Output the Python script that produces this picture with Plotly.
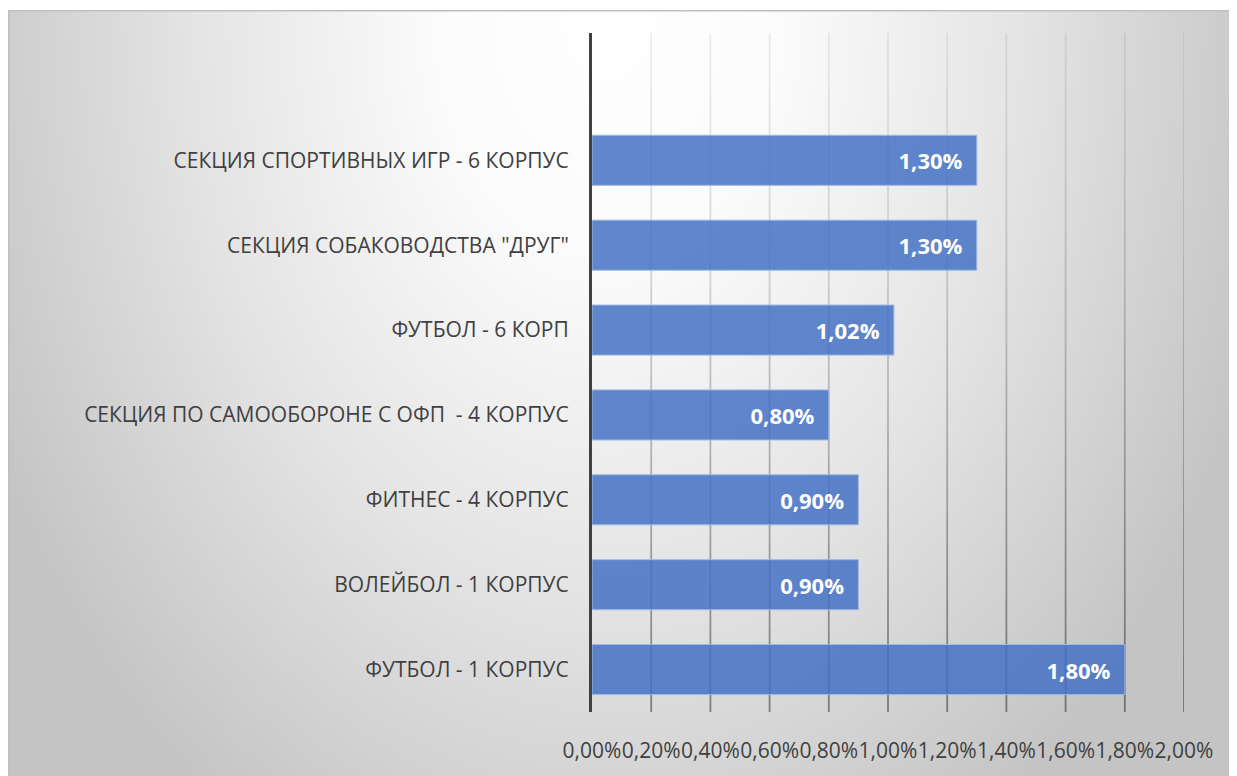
import base64
import plotly.graph_objects as go

# ---- data (bottom to top, as drawn by the category axis) ----
categories = [
    "ФУТБОЛ - 1 КОРПУС",
    "ВОЛЕЙБОЛ - 1 КОРПУС",
    "ФИТНЕС - 4 КОРПУС",
    "СЕКЦИЯ ПО САМООБОРОНЕ С ОФП  - 4 КОРПУС",
    "ФУТБОЛ - 6 КОРП",
    "СЕКЦИЯ СОБАКОВОДСТВА \"ДРУГ\"",
    "СЕКЦИЯ СПОРТИВНЫХ ИГР - 6 КОРПУС",
]
values = [0.018, 0.009, 0.009, 0.008, 0.0102, 0.013, 0.013]
x_ticks = [0.000, 0.002, 0.004, 0.006, 0.008, 0.010, 0.012, 0.014, 0.016, 0.018, 0.020]

# page has an 8px body margin; figure is sized to fit the window
W, H = 1229, 768
ML, MR, MT, MB = 584, 53, 25, 64
PW, PH = W - ML - MR, H - MT - MB

FONT = "Open Sans"
TXT = "#404040"

fig = go.Figure()
fig.add_trace(go.Bar(
    x=values, y=categories, orientation="h",
    marker=dict(color="rgba(68,114,196,0.85)",
                line=dict(color="rgba(160,185,228,1)", width=1)),
    texttemplate="%{x:.2%}\u00a0\u00a0",
    textposition="inside", insidetextanchor="end", textangle=0,
    constraintext="none",
    textfont=dict(family=FONT, size=22, color="white", weight="bold"),
    hoverinfo="skip",
))

# ---- background: radial gradient frame ----
fx0, fy0 = 0, 2
fw, fh = W - fx0, H - fy0
svg = f'''<svg xmlns="http://www.w3.org/2000/svg" width="{fw}" height="{fh}" viewBox="0 0 {fw} {fh}">
<defs><radialGradient id="g" gradientUnits="userSpaceOnUse" cx="0" cy="0" r="1"
 gradientTransform="translate(600 8) scale(690 960)">
<stop offset="0" stop-color="#ffffff"/><stop offset="0.25" stop-color="#fbfbfb"/>
<stop offset="0.6" stop-color="#e4e4e4"/><stop offset="0.9" stop-color="#cccccc"/>
<stop offset="1" stop-color="#c4c4c4"/>
</radialGradient></defs>
<rect x="0" y="0" width="{fw}" height="{fh}" fill="url(#g)"/>
<rect x="0.75" y="0.75" width="{fw}" height="{fh}" fill="none" stroke="#bfbfbf" stroke-width="1.5"/>
</svg>'''
src = "data:image/svg+xml;base64," + base64.b64encode(svg.encode()).decode()

def px2x(px):
    return (px - ML) / PW

def py2y(py):
    return (H - MB - py) / PH

fig.add_layout_image(dict(
    source=src, xref="paper", yref="paper",
    x=px2x(fx0), y=py2y(fy0), sizex=px2x(W) - px2x(fx0), sizey=py2y(fy0) - py2y(H),
    xanchor="left", yanchor="top", sizing="stretch", layer="below",
))

# ---- gridlines with vertical fade ----
shapes = []
N = 24
for xv in x_ticks[1:]:
    for i in range(N):
        t0, t1 = i / N, (i + 1) / N   # t from top (0) to bottom (1)
        tm = (t0 + t1) / 2
        a = 0.07 + 0.36 * tm ** 1.4
        shapes.append(dict(type="line", xref="x", yref="paper", layer="below",
                           x0=xv, x1=xv, y0=1 - t0, y1=1 - t1,
                           line=dict(color=f"rgba(0,0,0,{a:.3f})", width=1.8)))

fig.update_layout(
    width=W, height=H,
    margin=dict(l=ML, r=MR, t=MT, b=MB, autoexpand=False),
    paper_bgcolor="white", plot_bgcolor="rgba(0,0,0,0)",
    separators=", ",
    showlegend=False,
    bargap=0.41,
    shapes=shapes,
    font=dict(family=FONT, color=TXT),
    xaxis=dict(range=[0, 0.02], tickvals=x_ticks, tickformat=".2%",
               showgrid=False, zeroline=False, showline=False, ticks="",
               tickangle=0, automargin=False,
               tickfont=dict(family=FONT, size=21, color=TXT),
               ticklabelstandoff=24, fixedrange=True),
    yaxis=dict(type="category", categoryorder="array", categoryarray=categories,
               range=[-0.5, 7.5], showgrid=False, zeroline=False,
               showline=True, linecolor="#404040", linewidth=3,
               ticks="", ticklabelstandoff=16, automargin=False,
               tickfont=dict(family=FONT, size=21, color=TXT), fixedrange=True),
)

fig.write_html("out.html")
